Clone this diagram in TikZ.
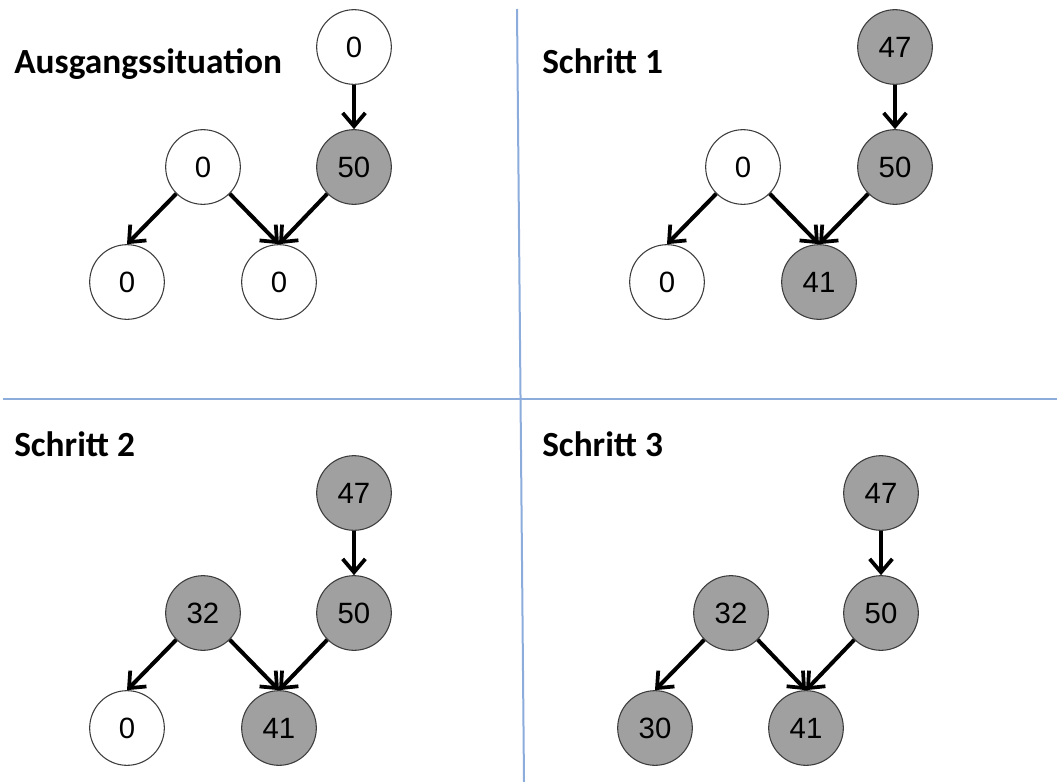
\documentclass[tikz,border=0pt]{standalone}
\usepackage{fontspec}
\setmainfont{Liberation Sans}
\newfontfamily\titlefont{Carlito}
\usetikzlibrary{arrows.meta}
\definecolor{nodegray}{RGB}{160,160,160}
\definecolor{divblue}{RGB}{140,172,220}
\definecolor{rimgray}{RGB}{60,60,60}
\begin{document}
\begin{tikzpicture}[x=0.75pt,y=-0.75pt,
  wnode/.style={circle, draw=rimgray, line width=0.8pt, fill=white, minimum size=56pt, inner sep=0pt, font=\fontsize{22}{22}\selectfont},
  gnode/.style={wnode, fill=nodegray},
  edge/.style={line width=3pt, -{Straight Barb[length=10pt,width=17pt,line width=2.8pt]}},
  title/.style={anchor=base west, inner sep=0pt, font=\titlefont\bfseries\fontsize{26.5}{26.5}\selectfont},
  divider/.style={draw=divblue, line width=1.5pt}]
\useasboundingbox (0,0) rectangle (1057,782);
% dividers
\coordinate (v1) at (517,9);
\coordinate (v2) at (524,782);
\coordinate (h1) at (3,399);
\coordinate (h2) at (1057,399);
\draw[divider] (v1) -- (v2);
\draw[divider] (h1) -- (h2);
% titles
\node[title] (t1) at (14,73) {Ausgangssituation};
\node[title] (t2) at (542,73) {Schritt 1};
\node[title] (t3) at (14,456) {Schritt 2};
\node[title] (t4) at (542,456) {Schritt 3};
% panel A
\node[wnode] (a1) at (354,47) {0};
\node[gnode] (a2) at (354,167) {50};
\node[wnode] (a3) at (203,167) {0};
\node[wnode] (a4) at (127,282) {0};
\node[wnode] (a5) at (279,282) {0};
\draw[edge] (a1.south) -- (a2.north);
\draw[edge] (a3.south west) -- (a4.north);
\draw[edge] (a3.south east) -- (a5.north);
\draw[edge] (a2.south west) -- (a5.north);
% panel B
\node[gnode] (b1) at (895,47) {47};
\node[gnode] (b2) at (895,167) {50};
\node[wnode] (b3) at (743,167) {0};
\node[wnode] (b4) at (667,282) {0};
\node[gnode] (b5) at (819,282) {41};
\draw[edge] (b1.south) -- (b2.north);
\draw[edge] (b3.south west) -- (b4.north);
\draw[edge] (b3.south east) -- (b5.north);
\draw[edge] (b2.south west) -- (b5.north);
% panel C
\node[gnode] (c1) at (354,493) {47};
\node[gnode] (c2) at (354,613) {50};
\node[gnode] (c3) at (203,613) {32};
\node[wnode] (c4) at (127,728) {0};
\node[gnode] (c5) at (279,728) {41};
\draw[edge] (c1.south) -- (c2.north);
\draw[edge] (c3.south west) -- (c4.north);
\draw[edge] (c3.south east) -- (c5.north);
\draw[edge] (c2.south west) -- (c5.north);
% panel D
\node[gnode] (d1) at (881,493) {47};
\node[gnode] (d2) at (881,613) {50};
\node[gnode] (d3) at (731,613) {32};
\node[gnode] (d4) at (655,728) {30};
\node[gnode] (d5) at (806,728) {41};
\draw[edge] (d1.south) -- (d2.north);
\draw[edge] (d3.south west) -- (d4.north);
\draw[edge] (d3.south east) -- (d5.north);
\draw[edge] (d2.south west) -- (d5.north);
\end{tikzpicture}
\end{document}
